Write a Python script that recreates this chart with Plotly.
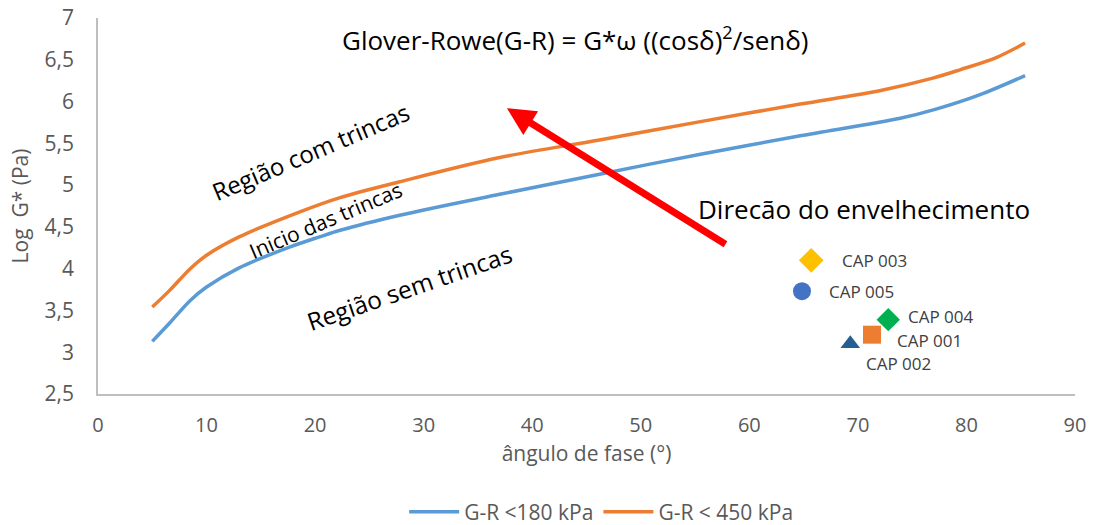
import plotly.graph_objects as go

FONT = "Open Sans"

# Curve data (phase angle, log G*)
blue_x = [5, 6.6, 8.5, 10, 13, 17.7, 20.4, 22.3, 27.8, 37.0, 46.2, 55.5, 64.7, 73.9, 77.2, 81.2, 85.4]
blue_y = [3.13, 3.35, 3.62, 3.78, 4.01, 4.26, 4.38, 4.46, 4.64, 4.89, 5.13, 5.37, 5.59, 5.80, 5.91, 6.08, 6.31]
orange_x = [5, 6.6, 8.5, 10, 13, 18.6, 22.3, 27.8, 37.0, 46.2, 55.5, 64.7, 72.0, 76.9, 79.4, 82.8, 85.4]
orange_y = [3.54, 3.74, 4.00, 4.16, 4.38, 4.68, 4.85, 5.04, 5.33, 5.54, 5.76, 5.97, 6.13, 6.28, 6.38, 6.53, 6.70]

# Binder samples
cap_names = ["CAP 003", "CAP 005", "CAP 004", "CAP 001", "CAP 002"]
cap_x = [65.7, 64.85, 72.8, 71.3, 69.3]
cap_y = [4.10, 3.73, 3.39, 3.21, 3.10]
cap_symbols = ["diamond", "circle", "diamond", "square", "triangle-up"]
cap_colors = ["#FFC000", "#4472C4", "#00B050", "#ED7D31", "#255E91"]
cap_sizes = [19, 18, 18, 18, 17]
cap_label_shift = [(63, 0), (60, 0), (53, 3), (57, -6), (48, -20)]

fig = go.Figure()
fig.add_trace(go.Scatter(x=blue_x, y=blue_y, mode="lines", name="G-R <180 kPa",
                         line=dict(color="#5B9BD5", width=3.5, shape="spline", smoothing=0.9)))
fig.add_trace(go.Scatter(x=orange_x, y=orange_y, mode="lines", name="G-R < 450 kPa",
                         line=dict(color="#ED7D31", width=3.5, shape="spline", smoothing=0.9)))

for n, x, y, s, c, sz, sh in zip(cap_names, cap_x, cap_y, cap_symbols, cap_colors, cap_sizes, cap_label_shift):
    fig.add_trace(go.Scatter(x=[x], y=[y], mode="markers", name=n, showlegend=False,
                             marker=dict(symbol=s, color=c, size=sz)))
    fig.add_annotation(x=x, y=y, text=n, showarrow=False, xshift=sh[0], yshift=sh[1],
                       font=dict(family=FONT, size=17, color="#404040"))

annos = [
    dict(text="Glover-Rowe(G-R) = G*ω ((cosδ)<sup>2</sup>/senδ)", x=44.0, y=6.75, size=26, angle=0),
    dict(text="Direcão do envelhecimento", x=70.6, y=4.72, size=26, angle=0),
    dict(text="Região com trincas", x=19.6, y=5.40, size=24, angle=-23),
    dict(text="Inicio das trincas", x=21.0, y=4.58, size=21, angle=-23),
    dict(text="Região sem trincas", x=28.65, y=3.78, size=24.5, angle=-19),
]
for a in annos:
    fig.add_annotation(x=a["x"], y=a["y"], text=a["text"], showarrow=False, textangle=a["angle"],
                       font=dict(family=FONT, size=a["size"], color="#000000"))

# Aging direction arrow
fig.add_annotation(x=37.67, y=5.92, ax=57.94, ay=4.28, xref="x", yref="y", axref="x", ayref="y",
                   text="", showarrow=True, arrowhead=2, arrowsize=0.8, arrowwidth=7, arrowcolor="#FF0000")

fig.update_layout(
    width=1096, height=525,
    margin=dict(l=98, r=21, t=18, b=131, autoexpand=False),
    plot_bgcolor="white", paper_bgcolor="white",
    separators=", ",
    font=dict(family=FONT, color="#595959"),
    showlegend=True,
    legend=dict(orientation="h", x=0.515, xanchor="center", y=-0.314, yanchor="middle",
                font=dict(family=FONT, size=21, color="#595959"), itemwidth=50),
    xaxis=dict(range=[0, 90], dtick=10, tick0=0, showgrid=False, zeroline=False, automargin=False,
               showline=True, linecolor="#BFBFBF", linewidth=1.5,
               tickfont=dict(family=FONT, size=20, color="#595959"), ticks="", ticklabelstandoff=12,
               title=dict(text="ângulo de fase (°)", font=dict(family=FONT, size=21, color="#595959"), standoff=10)),
    yaxis=dict(range=[2.5, 7], dtick=0.5, tick0=2.5, showgrid=False, zeroline=False, automargin=False,
               showline=True, linecolor="#BFBFBF", linewidth=1.5,
               tickfont=dict(family=FONT, size=21, color="#595959"), ticks="", ticklabelstandoff=18,
               title=dict(text="Log  G* (Pa)", font=dict(family=FONT, size=21, color="#595959"), standoff=10)),
)

fig.write_html("out.html")
